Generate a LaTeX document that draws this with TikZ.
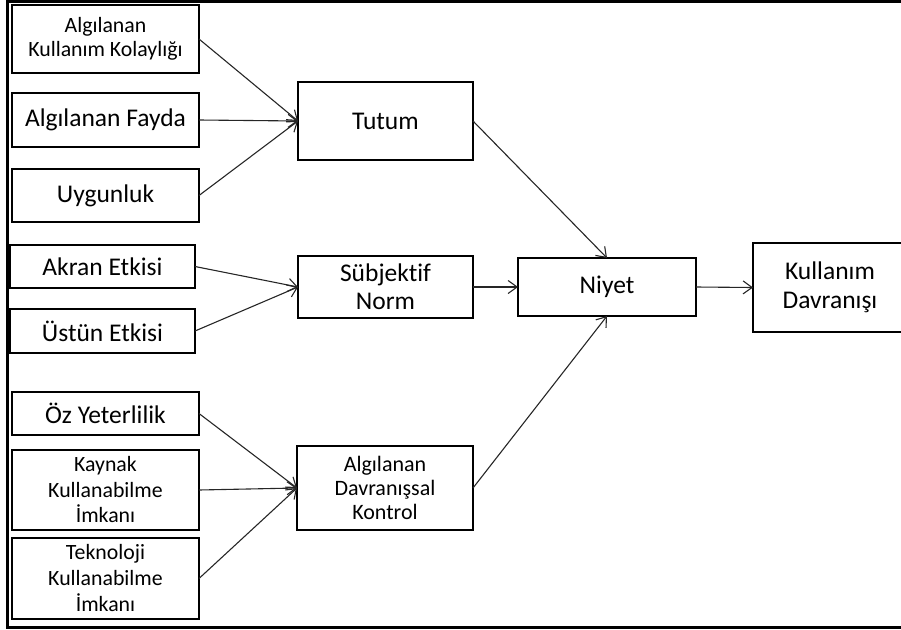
\documentclass[tikz,border=0pt]{standalone}
\usepackage{fontspec}
\setmainfont{Carlito}[Ligatures=CommonOff]
\usetikzlibrary{arrows.meta}

\begin{document}
\begin{tikzpicture}[x=1pt,y=-1pt,
  box/.style={draw=black,line width=2.8pt,fill=white,inner sep=0pt,outer sep=0pt,
    align=center,text=black,font=\fontsize{25.5}{29}\selectfont},
  smalltxt/.style={font=\fontsize{21.8}{24.5}\selectfont},
  link/.style={draw=black!85,line width=1.1pt,
    -{Straight Barb[length=9pt,width=13pt,line width=1.1pt]}}]

\useasboundingbox (0,0) rectangle (901,629);
\begin{scope}
\clip (0,0) rectangle (901,629);

% outer frame (right side runs past the page edge)
\draw[line width=3pt] (7,1.5) rectangle (920,627.5);

% attitude factors
\node[box,smalltxt,minimum width=187pt,minimum height=68pt] (kolay) at (105.5,39)
  {Algılanan\\Kullanım Kolaylığı};
\node[box,minimum width=187pt,minimum height=54pt] (fayda) at (105.5,120) {Algılanan Fayda};
\node[box,minimum width=187pt,minimum height=53pt] (uygun) at (105.5,195.5) {Uygunluk};

% social factors
\node[box,minimum width=185pt,minimum height=43pt] (akran) at (102.5,266.5) {Akran Etkisi};
\node[box,minimum width=185pt,minimum height=44pt] (ustun) at (102.5,331) {Üstün Etkisi};

% control factors
\node[box,minimum width=187pt,minimum height=43pt] (oz) at (105.5,413.5) {Öz Yeterlilik};
\node[box,font=\fontsize{21.8}{25.5}\selectfont,minimum width=187pt,minimum height=80pt]
  (kaynak) at (105.5,490) {Kaynak\\Kullanabilme\\İmkanı};
\node[box,font=\fontsize{21.8}{26}\selectfont,minimum width=187pt,minimum height=81pt]
  (tekno) at (105.5,578.5) {Teknoloji\\Kullanabilme\\İmkanı};

% intermediate constructs
\node[box,minimum width=175pt,minimum height=78pt] (tutum) at (385.5,121) {Tutum};
\node[box,font=\fontsize{25.5}{28}\selectfont,minimum width=175pt,minimum height=62pt]
  (norm) at (385.5,287) {Sübjektif\\Norm};
\node[box,font=\fontsize{22}{24}\selectfont,minimum width=176pt,minimum height=84pt]
  (adk) at (385,488) {Algılanan\\Davranışsal\\Kontrol};

% intention and behaviour
\node[box,minimum width=178pt,minimum height=58pt] (niyet) at (607,287) {Niyet};
\node[box,minimum width=154pt,minimum height=89pt] (davr) at (830,287.5)
  {Kullanım\\Davranışı};

% connectors
\draw[link] (kolay.east) -- (tutum.west);
\draw[link] (fayda.east) -- (tutum.west);
\draw[link] (uygun.east) -- (tutum.west);
\draw[link] (akran.east) -- (norm.west);
\draw[link] (ustun.east) -- (norm.west);
\draw[link] (oz.east) -- (adk.west);
\draw[link] (kaynak.east) -- (adk.west);
\draw[link] (tekno.east) -- (adk.west);
\draw[link] (tutum.east) -- (niyet.north);
\draw[link] (norm.east) -- (niyet.west);
\draw[link] (adk.east) -- (niyet.south);
\draw[link] (niyet.east) -- (davr.west);
\end{scope}
\end{tikzpicture}
\end{document}
